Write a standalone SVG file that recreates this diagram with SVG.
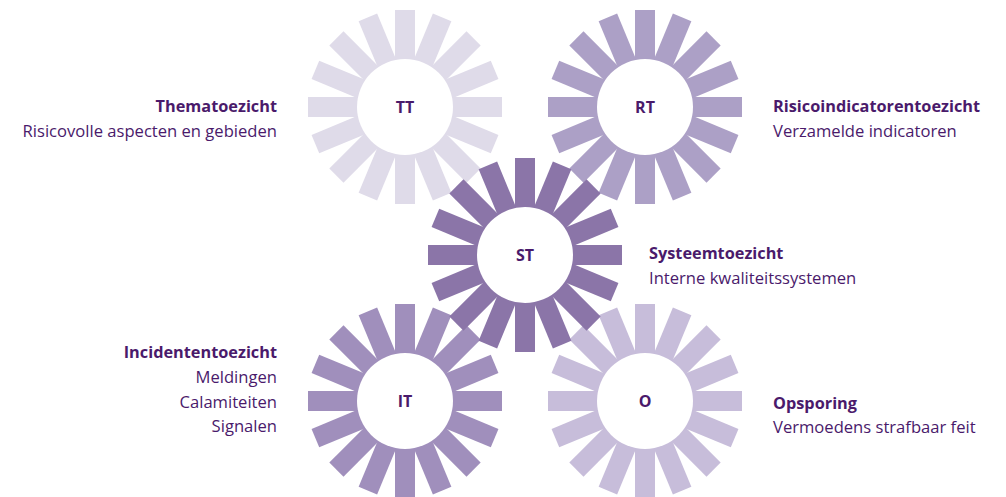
<svg xmlns="http://www.w3.org/2000/svg" xmlns:xlink="http://www.w3.org/1999/xlink" width="1006" height="497" viewBox="0 0 1006 497">
<style>
text{font-family:"Open Sans","Noto Sans","Liberation Sans",sans-serif;fill:#4a1a6b;font-size:16.6px}
.b{font-weight:bold;font-size:16.3px}
.c{text-anchor:middle;font-weight:bold;font-size:16px}
.r{text-anchor:end}
.hub{fill:#ffffff}
</style>
<defs>
<g id="rays">
<rect x="-10" y="-97" width="20" height="57" transform="rotate(0)"/>
<rect x="-10" y="-97" width="20" height="57" transform="rotate(22.5)"/>
<rect x="-10" y="-97" width="20" height="57" transform="rotate(45)"/>
<rect x="-10" y="-97" width="20" height="57" transform="rotate(67.5)"/>
<rect x="-10" y="-97" width="20" height="57" transform="rotate(90)"/>
<rect x="-10" y="-97" width="20" height="57" transform="rotate(112.5)"/>
<rect x="-10" y="-97" width="20" height="57" transform="rotate(135)"/>
<rect x="-10" y="-97" width="20" height="57" transform="rotate(157.5)"/>
<rect x="-10" y="-97" width="20" height="57" transform="rotate(180)"/>
<rect x="-10" y="-97" width="20" height="57" transform="rotate(202.5)"/>
<rect x="-10" y="-97" width="20" height="57" transform="rotate(225)"/>
<rect x="-10" y="-97" width="20" height="57" transform="rotate(247.5)"/>
<rect x="-10" y="-97" width="20" height="57" transform="rotate(270)"/>
<rect x="-10" y="-97" width="20" height="57" transform="rotate(292.5)"/>
<rect x="-10" y="-97" width="20" height="57" transform="rotate(315)"/>
<rect x="-10" y="-97" width="20" height="57" transform="rotate(337.5)"/>
</g>
</defs>
<rect width="1006" height="497" fill="#ffffff"/>
<g id="connectors"/>
<g id="node-TT" transform="translate(405,107)">
<use xlink:href="#rays" href="#rays" fill="#dfdbe9"/>
<circle class="hub" r="48"/>
<text class="c" y="6">TT</text>
</g>
<g id="node-RT" transform="translate(645,107)">
<use xlink:href="#rays" href="#rays" fill="#aca0c6"/>
<circle class="hub" r="48"/>
<text class="c" y="6">RT</text>
</g>
<g id="node-IT" transform="translate(405,401)">
<use xlink:href="#rays" href="#rays" fill="#a08fbc"/>
<circle class="hub" r="48"/>
<text class="c" y="6">IT</text>
</g>
<g id="node-O" transform="translate(645,401)">
<use xlink:href="#rays" href="#rays" fill="#c7bdda"/>
<circle class="hub" r="48"/>
<text class="c" y="6">O</text>
</g>
<g id="node-ST" transform="translate(525,255)">
<use xlink:href="#rays" href="#rays" fill="#8b75a8"/>
<circle class="hub" r="48"/>
<text class="c" y="6">ST</text>
</g>
<g id="label-TT">
<text class="b r" x="277" y="112">Thematoezicht</text>
<text class="r" x="277" y="137">Risicovolle aspecten en gebieden</text>
</g>
<g id="label-RT">
<text class="b" x="773" y="112">Risicoindicatorentoezicht</text>
<text x="773" y="137">Verzamelde indicatoren</text>
</g>
<g id="label-ST">
<text class="b" x="649" y="259">Systeemtoezicht</text>
<text x="649" y="284">Interne kwaliteitssystemen</text>
</g>
<g id="label-IT">
<text class="b r" x="277" y="358">Incidententoezicht</text>
<text class="r" x="277" y="383">Meldingen</text>
<text class="r" x="277" y="408">Calamiteiten</text>
<text class="r" x="277" y="432">Signalen</text>
</g>
<g id="label-O">
<text class="b" x="773" y="409">Opsporing</text>
<text x="773" y="433">Vermoedens strafbaar feit</text>
</g>
</svg>
